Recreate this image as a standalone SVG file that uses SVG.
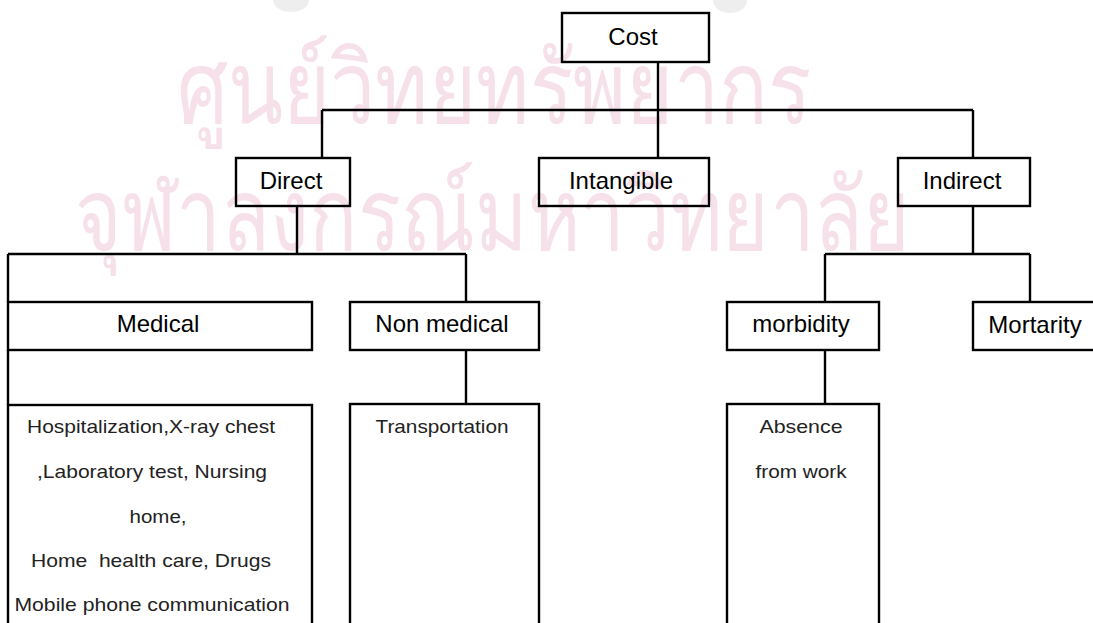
<svg xmlns="http://www.w3.org/2000/svg" width="1093" height="623" viewBox="0 0 1093 623">
  <style>
    .box { fill: none; stroke: #000; stroke-width: 2.4; }
    .wire { fill: none; stroke: #000; stroke-width: 2.4; }
    .t { font-family: "Liberation Sans", Arial, sans-serif; font-size: 24px; fill: #000; text-anchor: middle; }
    .d { font-family: "Liberation Sans", Arial, sans-serif; font-size: 18.5px; fill: #222; text-anchor: middle; }
    .wm { font-family: "DejaVu Sans", "Noto Sans", sans-serif; font-size: 100px; fill: #f6e0ea; }
  </style>
  <rect width="1093" height="623" fill="#fff"/>
  <g id="watermark">
    <ellipse cx="291" cy="0" rx="18" ry="12" fill="#eeeeee"/>
    <ellipse cx="730" cy="0" rx="17" ry="13" fill="#eeeeee"/>
    <text class="wm" x="177" y="123" textLength="635" lengthAdjust="spacingAndGlyphs">ศูนย์วิทยทรัพยากร</text>
    <text class="wm" x="75" y="250" textLength="835" lengthAdjust="spacingAndGlyphs">จุฬาลงกรณ์มหาวิทยาลัย</text>
  </g>
  <g id="connectors">
    <path class="wire" d="M658 62 V158 M322 110 H973 M322 110 V158 M973 110 V158"/>
    <path class="wire" d="M297 206 V254 M8 254 H466 M8 254 V302 M466 254 V302 M8 350 V405 M466 350 V404"/>
    <path class="wire" d="M973 206 V254 M825 254 H1030 M825 254 V302 M1030 254 V302 M825 350 V404"/>
  </g>
  <g id="cost"><rect class="box" x="562" y="13" width="147" height="49"/><text class="t" x="633" y="45">Cost</text></g>
  <g id="direct"><rect class="box" x="236" y="158" width="114" height="48"/><text class="t" x="291" y="189">Direct</text></g>
  <g id="intangible"><rect class="box" x="539" y="158" width="170" height="48"/><text class="t" x="621" y="189">Intangible</text></g>
  <g id="indirect"><rect class="box" x="898" y="158" width="132" height="48"/><text class="t" x="962" y="189">Indirect</text></g>
  <g id="medical"><rect class="box" x="8" y="302" width="304" height="48"/><text class="t" x="158" y="332">Medical</text></g>
  <g id="nonmedical"><rect class="box" x="350" y="302" width="189" height="48"/><text class="t" x="442" y="332">Non medical</text></g>
  <g id="morbidity"><rect class="box" x="727" y="302" width="152" height="48"/><text class="t" x="801" y="332">morbidity</text></g>
  <g id="mortarity"><rect class="box" x="973" y="302" width="125" height="48"/><text class="t" x="1035" y="333">Mortarity</text></g>
  <g id="medical-items">
    <rect class="box" x="8" y="405" width="304" height="240"/>
    <text class="d" x="151" y="433" textLength="248" lengthAdjust="spacingAndGlyphs">Hospitalization,X-ray chest</text>
    <text class="d" x="152" y="478" textLength="230" lengthAdjust="spacingAndGlyphs">,Laboratory test, Nursing</text>
    <text class="d" x="158" y="523" textLength="57" lengthAdjust="spacingAndGlyphs">home,</text>
    <text class="d" x="151" y="567" textLength="240" lengthAdjust="spacingAndGlyphs" xml:space="preserve">Home  health care, Drugs</text>
    <text class="d" x="152" y="611" textLength="275" lengthAdjust="spacingAndGlyphs">Mobile phone communication</text>
  </g>
  <g id="nonmedical-items">
    <rect class="box" x="350" y="404" width="189" height="240"/>
    <text class="d" x="442" y="433" textLength="133" lengthAdjust="spacingAndGlyphs">Transportation</text>
  </g>
  <g id="morbidity-items">
    <rect class="box" x="727" y="404" width="152" height="240"/>
    <text class="d" x="801" y="433" textLength="83" lengthAdjust="spacingAndGlyphs">Absence</text>
    <text class="d" x="801" y="478" textLength="91" lengthAdjust="spacingAndGlyphs">from work</text>
  </g>
</svg>
